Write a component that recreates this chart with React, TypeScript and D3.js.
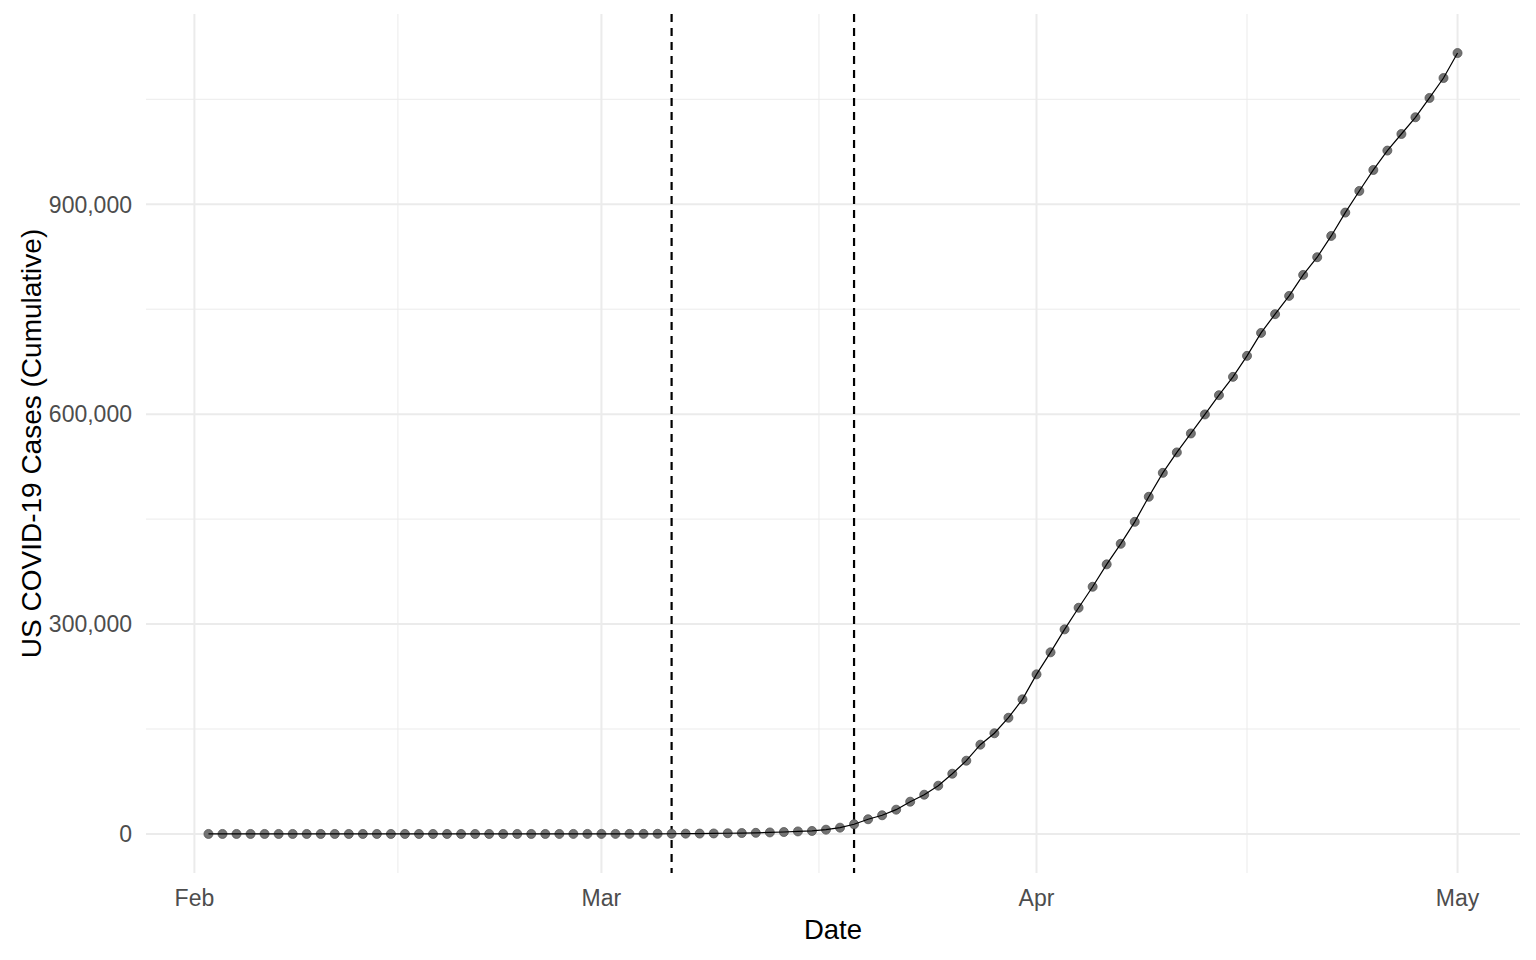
import React from 'react';
import * as d3 from 'd3';

// daily cumulative cases, Feb 2 .. May 1 2020
const dates = [
  '2020-02-02', '2020-02-03', '2020-02-04', '2020-02-05', '2020-02-06', '2020-02-07', '2020-02-08',
  '2020-02-09', '2020-02-10', '2020-02-11', '2020-02-12', '2020-02-13', '2020-02-14', '2020-02-15',
  '2020-02-16', '2020-02-17', '2020-02-18', '2020-02-19', '2020-02-20', '2020-02-21', '2020-02-22',
  '2020-02-23', '2020-02-24', '2020-02-25', '2020-02-26', '2020-02-27', '2020-02-28', '2020-02-29',
  '2020-03-01', '2020-03-02', '2020-03-03', '2020-03-04', '2020-03-05', '2020-03-06', '2020-03-07',
  '2020-03-08', '2020-03-09', '2020-03-10', '2020-03-11', '2020-03-12', '2020-03-13', '2020-03-14',
  '2020-03-15', '2020-03-16', '2020-03-17', '2020-03-18', '2020-03-19', '2020-03-20', '2020-03-21',
  '2020-03-22', '2020-03-23', '2020-03-24', '2020-03-25', '2020-03-26', '2020-03-27', '2020-03-28',
  '2020-03-29', '2020-03-30', '2020-03-31', '2020-04-01', '2020-04-02', '2020-04-03', '2020-04-04',
  '2020-04-05', '2020-04-06', '2020-04-07', '2020-04-08', '2020-04-09', '2020-04-10', '2020-04-11',
  '2020-04-12', '2020-04-13', '2020-04-14', '2020-04-15', '2020-04-16', '2020-04-17', '2020-04-18',
  '2020-04-19', '2020-04-20', '2020-04-21', '2020-04-22', '2020-04-23', '2020-04-24', '2020-04-25',
  '2020-04-26', '2020-04-27', '2020-04-28', '2020-04-29', '2020-04-30', '2020-05-01',
];

const cases = [
  8, 11, 11, 12, 12, 12, 12, 12, 12, 13, 13, 14, 14, 14, 14, 14, 14, 14, 14, 16, 16, 16, 16, 16, 16, 17, 60, 68,
  75, 100, 124, 158, 221, 319, 435, 541, 704, 994, 1301, 1630, 2183, 2770, 3613, 4300, 6100, 9000,
  13860, 21000, 26700, 34700, 46100, 56100, 69000, 86100, 104700, 127600, 143900, 166100, 192400,
  228100, 259600, 292400, 323300, 353300, 385300, 414700, 446100, 481900, 516100, 545300, 572400,
  599600, 627100, 653300, 683300, 716100, 742900, 769000, 799000, 824300, 854700, 888100, 919000,
  949000, 976700, 1000400, 1024300, 1051900, 1080400, 1116100,
];

// dashed reference lines
const markerDates = ['2020-03-06', '2020-03-19'];

const xTickDates = ['2020-02-01', '2020-03-01', '2020-04-01', '2020-05-01'];
const xTickLabels = ['Feb', 'Mar', 'Apr', 'May'];
const yTicks = [0, 300000, 600000, 900000];
const yMinorTicks = [150000, 450000, 750000, 1050000];

const parse = d3.utcParse('%Y-%m-%d');

const App = () => {
  const width = 1536;
  const height = 960;
  const panel = { left: 146, right: 1520, top: 14, bottom: 873 };

  const data = dates.map((d, i) => ({ date: parse(d) as Date, value: cases[i] }));

  // ggplot style 5% expansion on both axes
  const [dMin, dMax] = d3.extent(data, (d) => d.date.getTime()) as [number, number];
  const xPad = (dMax - dMin) * 0.05;
  const x = d3.scaleUtc()
    .domain([new Date(dMin - xPad), new Date(dMax + xPad)])
    .range([panel.left, panel.right]);

  const yMax = d3.max(cases) as number;
  const y = d3.scaleLinear()
    .domain([-yMax * 0.05, yMax * 1.05])
    .range([panel.bottom, panel.top]);

  const xMajor = xTickDates.map((d) => parse(d) as Date);
  const xMinor = xMajor.slice(1).map((d, i) => new Date((d.getTime() + xMajor[i].getTime()) / 2));

  const line = d3.line<{ date: Date; value: number }>()
    .x((d) => x(d.date))
    .y((d) => y(d.value));

  const fmt = d3.format(',');
  const font = 'Arial, "Liberation Sans", sans-serif';

  return (
    <svg
      width={width}
      height={height}
      style={{ position: 'absolute', left: 0, top: 0, background: '#fff' }}
    >
      {/* minor grid */}
      <g stroke="#EBEBEB" strokeWidth={1}>
        {xMinor.map((d, i) => (
          <line key={`xm${i}`} x1={x(d)} x2={x(d)} y1={panel.top} y2={panel.bottom} />
        ))}
        {yMinorTicks.map((v) => (
          <line key={`ym${v}`} x1={panel.left} x2={panel.right} y1={y(v)} y2={y(v)} />
        ))}
      </g>
      {/* major grid */}
      <g stroke="#EBEBEB" strokeWidth={2}>
        {xMajor.map((d, i) => (
          <line key={`xM${i}`} x1={x(d)} x2={x(d)} y1={panel.top} y2={panel.bottom} />
        ))}
        {yTicks.map((v) => (
          <line key={`yM${v}`} x1={panel.left} x2={panel.right} y1={y(v)} y2={y(v)} />
        ))}
      </g>

      {/* vertical dashed markers */}
      {markerDates.map((d) => {
        const px = x(parse(d) as Date);
        return (
          <line
            key={d}
            x1={px}
            x2={px}
            y1={panel.top}
            y2={panel.bottom}
            stroke="#000"
            strokeWidth={2.2}
            strokeDasharray="8,6"
          />
        );
      })}

      {/* points */}
      <g>
        {data.map((d, i) => (
          <circle
            key={i}
            cx={x(d.date)}
            cy={y(d.value)}
            r={4.5}
            fill="#737373"
            stroke="#555"
            strokeWidth={0.8}
          />
        ))}
      </g>
      <path d={line(data) || ''} fill="none" stroke="#000" strokeWidth={1.2} />

      {/* x axis labels */}
      <g fontFamily={font} fontSize={23} fill="#4D4D4D" textAnchor="middle">
        {xMajor.map((d, i) => (
          <text key={i} x={x(d)} y={906}>{xTickLabels[i]}</text>
        ))}
      </g>
      {/* y axis labels */}
      <g fontFamily={font} fontSize={23} fill="#4D4D4D" textAnchor="end">
        {yTicks.map((v) => (
          <text key={v} x={132} y={y(v)} dy="0.36em">{fmt(v)}</text>
        ))}
      </g>

      <text
        x={(panel.left + panel.right) / 2}
        y={939}
        fontFamily={font}
        fontSize={27.5}
        textAnchor="middle"
        fill="#000"
      >
        Date
      </text>
      <text
        transform={`translate(41, ${(panel.top + panel.bottom) / 2}) rotate(-90)`}
        fontFamily={font}
        fontSize={28}
        textAnchor="middle"
        fill="#000"
      >
        US COVID-19 Cases (Cumulative)
      </text>
    </svg>
  );
};

export default App;
